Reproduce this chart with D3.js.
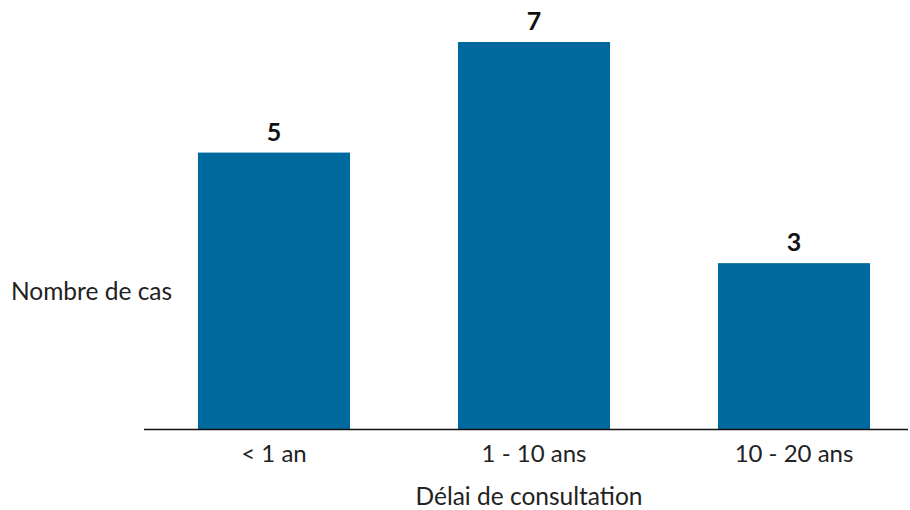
<!DOCTYPE html>
<html>
<head>
<meta charset="utf-8">
<script src="https://cdn.jsdelivr.net/npm/d3@7"></script>
<style>
  html, body { margin: 0; padding: 0; background: #fff; }
  svg { display: block; font-family: Lato, "Open Sans", sans-serif; }
</style>
</head>
<body>
<svg id="chart" width="910" height="510"></svg>
<script>
// Number of cases by time to consultation
const categories = ["< 1 an", "1 - 10 ans", "10 - 20 ans"];
const values = [5, 7, 3];
const yTitle = "Nombre de cas";
const xTitle = "Délai de consultation";

const svg = d3.select("#chart");
const baseY = 429;

const x = d3.scaleBand()
  .domain(categories)
  .range([144, 924])
  .paddingInner(0.415)
  .paddingOuter(0.2075);

const y = d3.scaleLinear()
  .domain([0, 7])
  .range([baseY, 42]);

// bars
svg.append("g")
  .selectAll("rect")
  .data(values)
  .join("rect")
  .attr("x", (d, i) => x(categories[i]))
  .attr("y", d => y(d))
  .attr("width", x.bandwidth())
  .attr("height", d => y(0) - y(d))
  .attr("fill", "#006A9E");

// value labels
svg.append("g")
  .selectAll("text")
  .data(values)
  .join("text")
  .attr("x", (d, i) => x(categories[i]) + x.bandwidth() / 2)
  .attr("y", d => y(d) - 12)
  .attr("text-anchor", "middle")
  .attr("font-size", 25)
  .attr("font-weight", "bold")
  .attr("fill", "#111")
  .text(d => d);

// category axis
const axis = svg.append("g")
  .attr("transform", `translate(0,${baseY})`)
  .call(d3.axisBottom(x).tickSize(0).tickPadding(16));
axis.select(".domain").remove();
axis.selectAll("text")
  .attr("font-size", 24)
  .attr("font-family", "Lato, 'Open Sans', sans-serif")
  .attr("fill", "#222");

svg.append("line")
  .attr("x1", 144).attr("x2", 908)
  .attr("y1", baseY + 0.5).attr("y2", baseY + 0.5)
  .attr("stroke", "#111")
  .attr("stroke-width", 1.5);

// axis titles
svg.append("text")
  .attr("x", 11)
  .attr("y", 300)
  .attr("font-size", 24.5)
  .attr("fill", "#222")
  .text(yTitle);

svg.append("text")
  .attr("x", 529)
  .attr("y", 505)
  .attr("text-anchor", "middle")
  .attr("font-size", 24.5)
  .attr("fill", "#222")
  .text(xTitle);
</script>
</body>
</html>
